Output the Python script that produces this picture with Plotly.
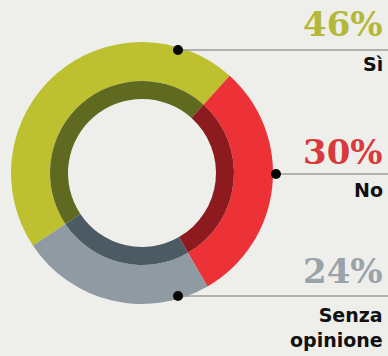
import plotly.graph_objects as go

# Data
categories = ["Sì", "No", "Senza opinione"]
values = [46, 30, 24]
pct_labels = ["46%", "30%", "24%"]
label_lines = ["Sì", "No", "Senza<br>opinione"]
outer_colors = ["#BDC12F", "#EC3236", "#8F9AA2"]
inner_colors = ["#5F6A20", "#8C1A1F", "#4C5A64"]
pct_colors = ["#B3B83A", "#D9383C", "#9AA3AA"]

W, H = 388, 356
cx, cy = 142, 173
r_out, r_mid, r_in = 131, 92, 74
rot = 236.4

def dom(r):
    return dict(x=[(cx - r) / W, (cx + r) / W], y=[(H - cy - r) / H, (H - cy + r) / H])

fig = go.Figure()
fig.add_trace(go.Pie(labels=categories, values=values, hole=r_mid / r_out,
                     marker=dict(colors=outer_colors, line=dict(width=0)),
                     sort=False, direction="clockwise", rotation=rot,
                     textinfo="none", hoverinfo="label+percent",
                     domain=dom(r_out), showlegend=False))
fig.add_trace(go.Pie(labels=categories, values=values, hole=r_in / r_mid,
                     marker=dict(colors=inner_colors, line=dict(width=0)),
                     sort=False, direction="clockwise", rotation=rot,
                     textinfo="none", hoverinfo="label+percent",
                     domain=dom(r_mid), showlegend=False))

# leader lines & dots (pixel-space axes)
dots_x = [178, 276, 178]
dots_y = [50, 174, 296]
dot_r = 5
for x0, y0 in zip(dots_x, dots_y):
    fig.add_shape(type="line", x0=x0, x1=W, y0=y0, y1=y0, xref="x", yref="y",
                  line=dict(color="#9C9C9C", width=1.5), layer="above")
    fig.add_shape(type="circle", x0=x0 - dot_r, x1=x0 + dot_r, y0=y0 - dot_r, y1=y0 + dot_r,
                  xref="x", yref="y", fillcolor="#050505", line=dict(width=0), layer="above")

pct_y = [24, 152, 271]
lab_y = [64, 190, 327]
for i in range(3):
    fig.add_annotation(x=385, y=pct_y[i], xref="x", yref="y", text=pct_labels[i],
                       showarrow=False, xanchor="right", yanchor="middle",
                       font=dict(family="DejaVu Serif", size=34, color=pct_colors[i], weight="bold"))
    fig.add_annotation(x=385, y=lab_y[i], xref="x", yref="y", text=label_lines[i],
                       showarrow=False, xanchor="right", yanchor="middle", align="right",
                       font=dict(family="DejaVu Sans", size=19, color="#111111", weight="bold"))

fig.update_layout(
    width=W, height=H, margin=dict(l=0, r=0, t=0, b=0),
    paper_bgcolor="#EEEEEA", plot_bgcolor="rgba(0,0,0,0)",
    xaxis=dict(range=[0, W], visible=False, fixedrange=True),
    yaxis=dict(range=[H, 0], visible=False, fixedrange=True),
)
fig.write_html("out.html")
